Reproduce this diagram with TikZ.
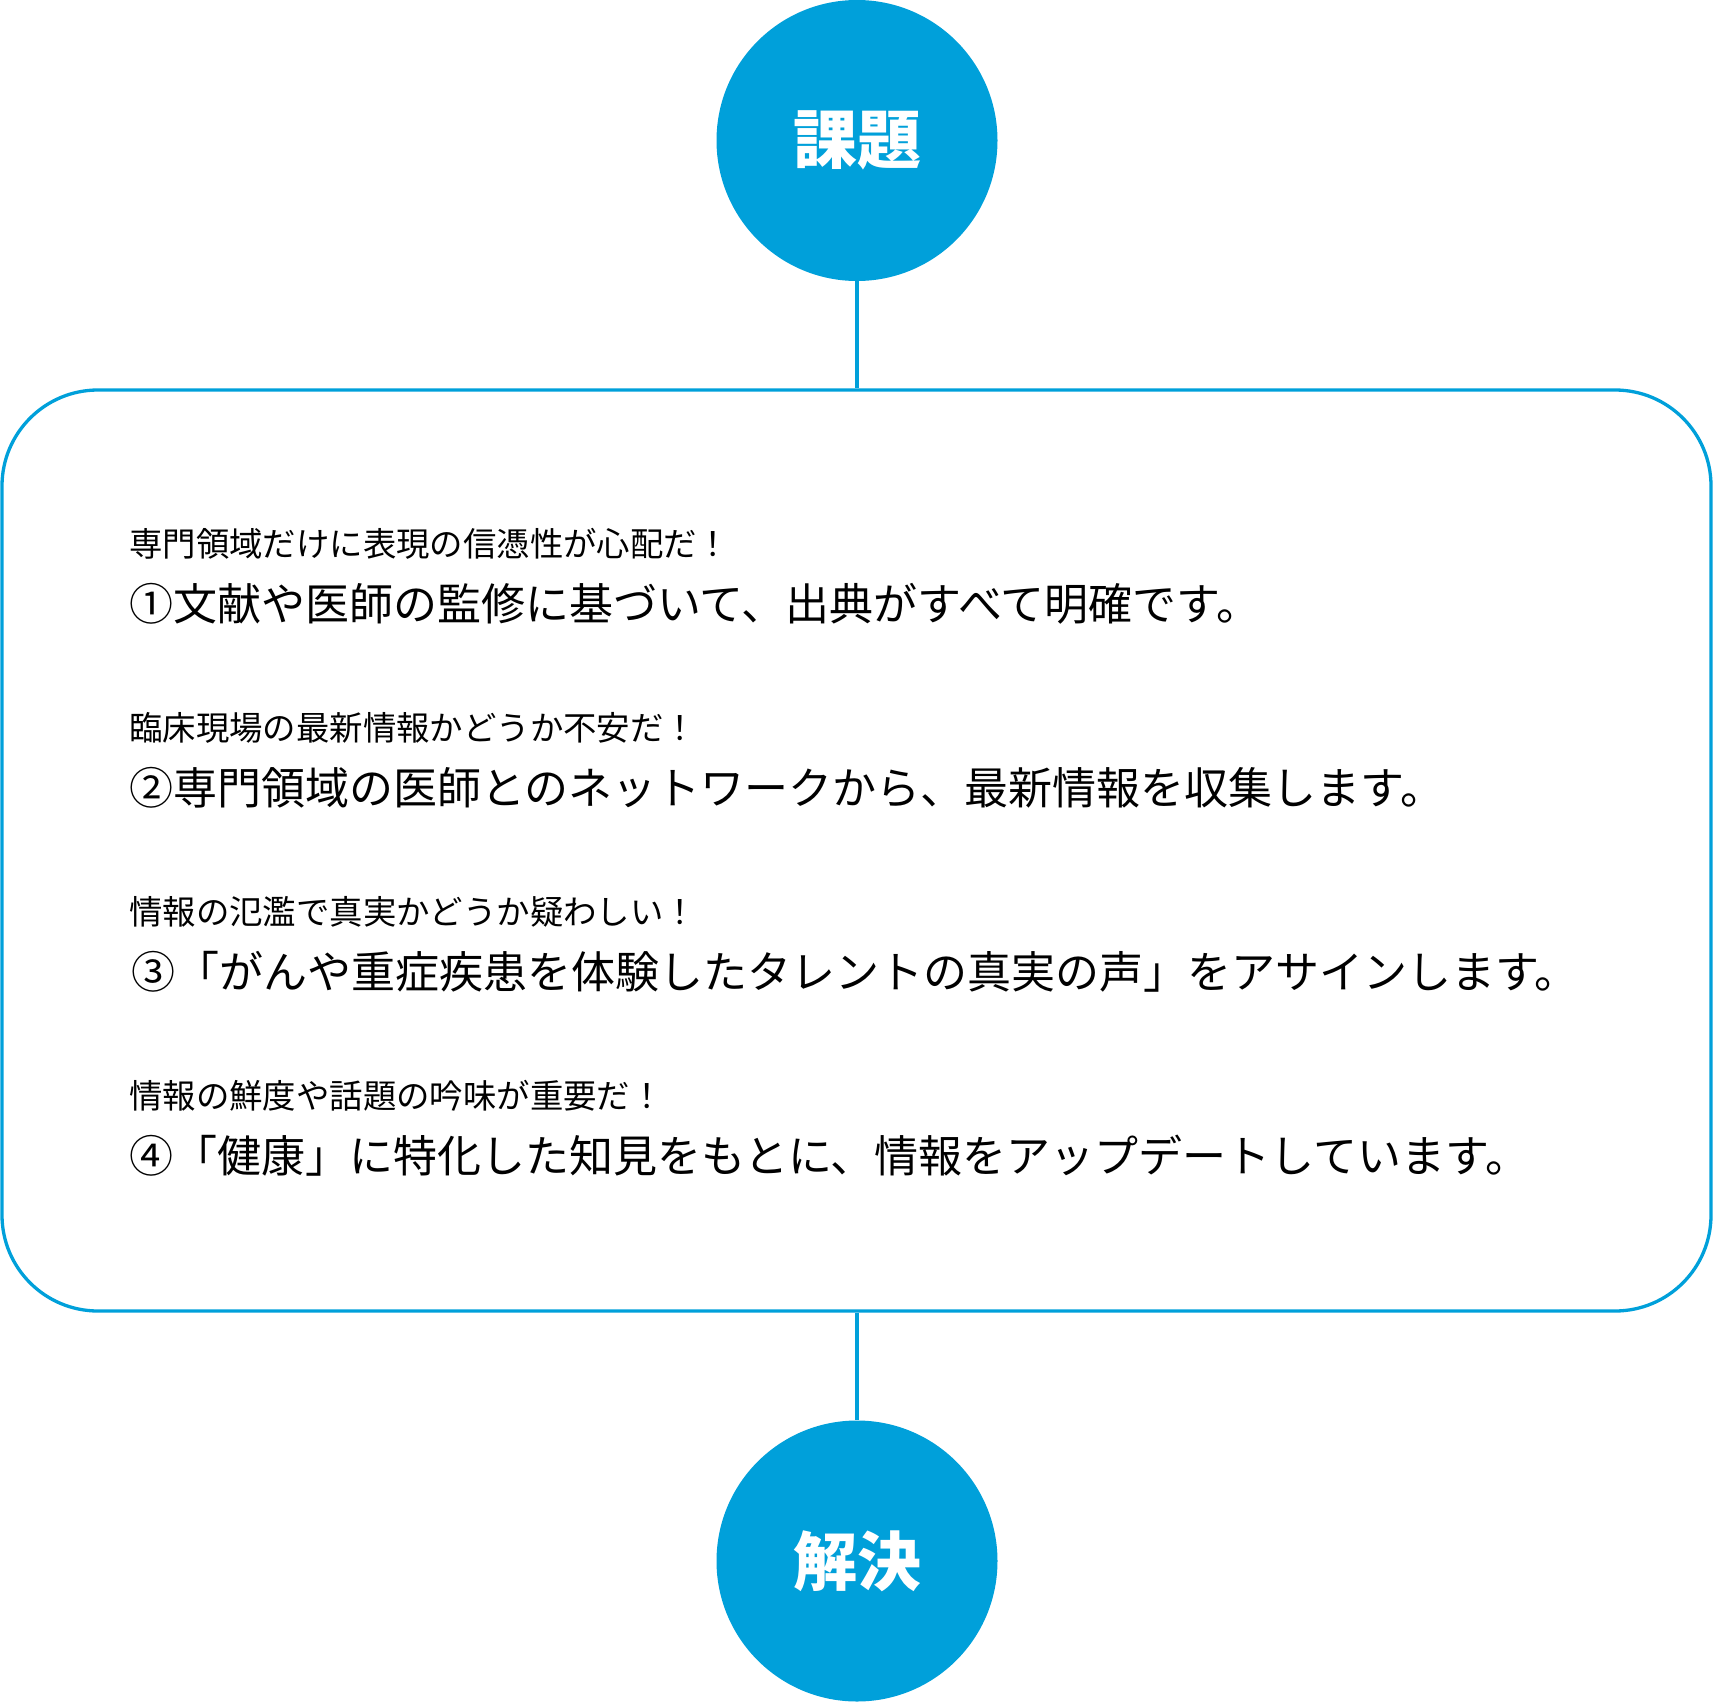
\documentclass[tikz,border=0pt]{standalone}
\usepackage{fontspec}
\setmainfont{Noto Sans CJK JP}
\newfontfamily\cjk{Noto Sans CJK JP}
\definecolor{mainblue}{RGB}{0,160,218}
\begin{document}
\begin{tikzpicture}[x=1pt,y=-1pt,
  bubble/.style={circle,fill=mainblue,minimum size=281pt,inner sep=0pt,text=white,
    font=\cjk\bfseries\fontsize{64pt}{70pt}\selectfont},
  link/.style={draw=mainblue,line width=3.3pt},
  panel/.style={draw=mainblue,line width=3.3pt,rounded corners=96pt,
    minimum width=1709pt,minimum height=921pt,inner sep=0pt},
  worry/.style={anchor=base west,inner sep=0pt,font=\cjk\fontsize{33.4pt}{40pt}\selectfont},
  answer/.style={anchor=base west,inner sep=0pt,font=\cjk\fontsize{44pt}{52pt}\selectfont}]
\useasboundingbox (0,0) rectangle (1714,1702);
\node[bubble] (top) at (857,140.5) {課題};
\node[panel] (box) at (856.5,850.5) {};
\node[bubble] (bot) at (857,1561) {解決};
\draw[link] (top.south) -- (top.south |- box.north);
\draw[link] (bot.north |- box.south) -- (bot.north);
\node[worry]  (w1) at (129,556) {専門領域だけに表現の信憑性が心配だ！};
\node[answer] (a1) at (129,620) {①文献や医師の監修に基づいて、出典がすべて明確です。};
\node[worry]  (w2) at (129,740) {臨床現場の最新情報かどうか不安だ！};
\node[answer] (a2) at (129,804) {②専門領域の医師とのネットワークから、最新情報を収集します。};
\node[worry]  (w3) at (129,924) {情報の氾濫で真実かどうか疑わしい！};
\node[answer] (a3) at (131,988) {③「がんや重症疾患を体験したタレントの真実の声」をアサインします。};
\node[worry]  (w4) at (129,1108) {情報の鮮度や話題の吟味が重要だ！};
\node[answer] (a4) at (129,1172) {④「健康」に特化した知見をもとに、情報をアップデートしています。};
\end{tikzpicture}
\end{document}
